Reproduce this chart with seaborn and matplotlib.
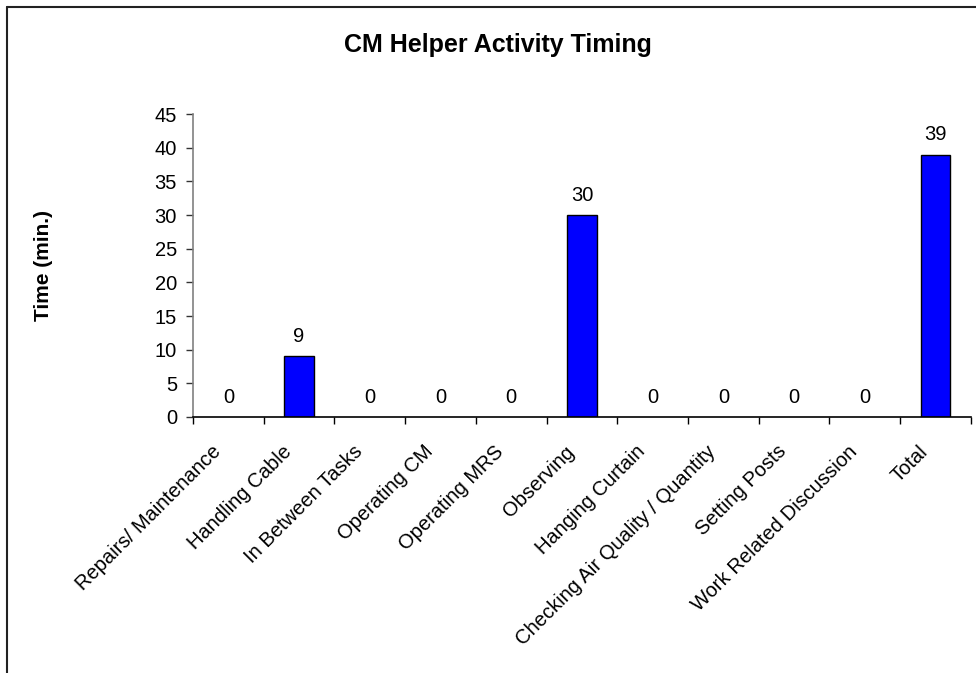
import matplotlib
matplotlib.use("Agg")
import matplotlib.pyplot as plt
from matplotlib.lines import Line2D
import seaborn as sns
import pandas as pd
import numpy as np

categories = ['Repairs/ Maintenance', 'Handling Cable', 'In Between Tasks', 'Operating CM',
              'Operating MRS', 'Observing', 'Hanging Curtain', 'Checking Air Quality / Quantity',
              'Setting Posts', 'Work Related Discussion', 'Total']
minutes = [0, 9, 0, 0, 0, 30, 0, 0, 0, 0, 39]
y_ticks = [0, 5, 10, 15, 20, 25, 30, 35, 40, 45]

sns.set_style('white')
plt.rcParams['font.family'] = ['Liberation Sans', 'DejaVu Sans']
plt.rcParams.update({'text.color': 'black', 'axes.labelcolor': 'black',
                     'xtick.color': 'black', 'ytick.color': 'black'})

df = pd.DataFrame({'activity': categories, 'time': minutes})

fig = plt.figure(figsize=(9.76, 6.73), dpi=100)
ax = fig.add_axes([0.1977, 0.3804, 0.797, 0.450])

sns.barplot(data=df, x='activity', y='time', color='#0000FF', saturation=1,
            edgecolor='black', linewidth=1, width=0.42, ax=ax)

# zero bars show no outline in the original
for p, v in zip(ax.patches, minutes):
    if v == 0:
        p.set_linewidth(0)

for c in ax.containers:
    ax.bar_label(c, labels=[str(v) for v in minutes], padding=7.5, fontsize=14.5)

n = len(categories)
ax.set_xlim(-0.5, n - 0.5)
ax.set_ylim(0, 45)
ax.set_yticks(y_ticks)
# rotated labels sit a little left of the category centre, like Excel
ax.set_xticks(np.arange(n) - 0.24)
ax.set_xticklabels(categories, rotation=45, ha='right', rotation_mode='anchor', fontsize=14.5)
ax.set_xticks(np.arange(-0.5, n), minor=True)
ax.tick_params(axis='x', which='major', length=0, pad=18)
ax.tick_params(axis='x', which='minor', length=5, width=1, color='black', direction='out', bottom=True)
ax.tick_params(axis='y', length=5, width=1, color='#333333', direction='out', left=True,
               labelsize=14.5, pad=6.5)

for s in ['top', 'right']:
    ax.spines[s].set_visible(False)
ax.spines['left'].set_color('#808080')
ax.spines['bottom'].set_color('black')
ax.spines['left'].set_linewidth(1.2)
ax.spines['bottom'].set_linewidth(1.2)

ax.set_xlabel('')
ax.set_ylabel('Time (min.)', fontsize=15, fontweight='bold')
ax.yaxis.set_label_coords(-0.18, 0.5)

fig.text(0.5097, 0.933, 'CM Helper Activity Timing', ha='center', va='center',
         fontsize=18, fontweight='bold')

# chart area border: visible on left and top only
fig.lines.append(Line2D([0.0072, 0.0072], [0, 0.990], transform=fig.transFigure,
                        color='#222222', linewidth=1.5))
fig.lines.append(Line2D([0.0072, 1], [0.990, 0.990], transform=fig.transFigure,
                        color='#222222', linewidth=1.5))

fig.savefig('out.png', dpi=100)
